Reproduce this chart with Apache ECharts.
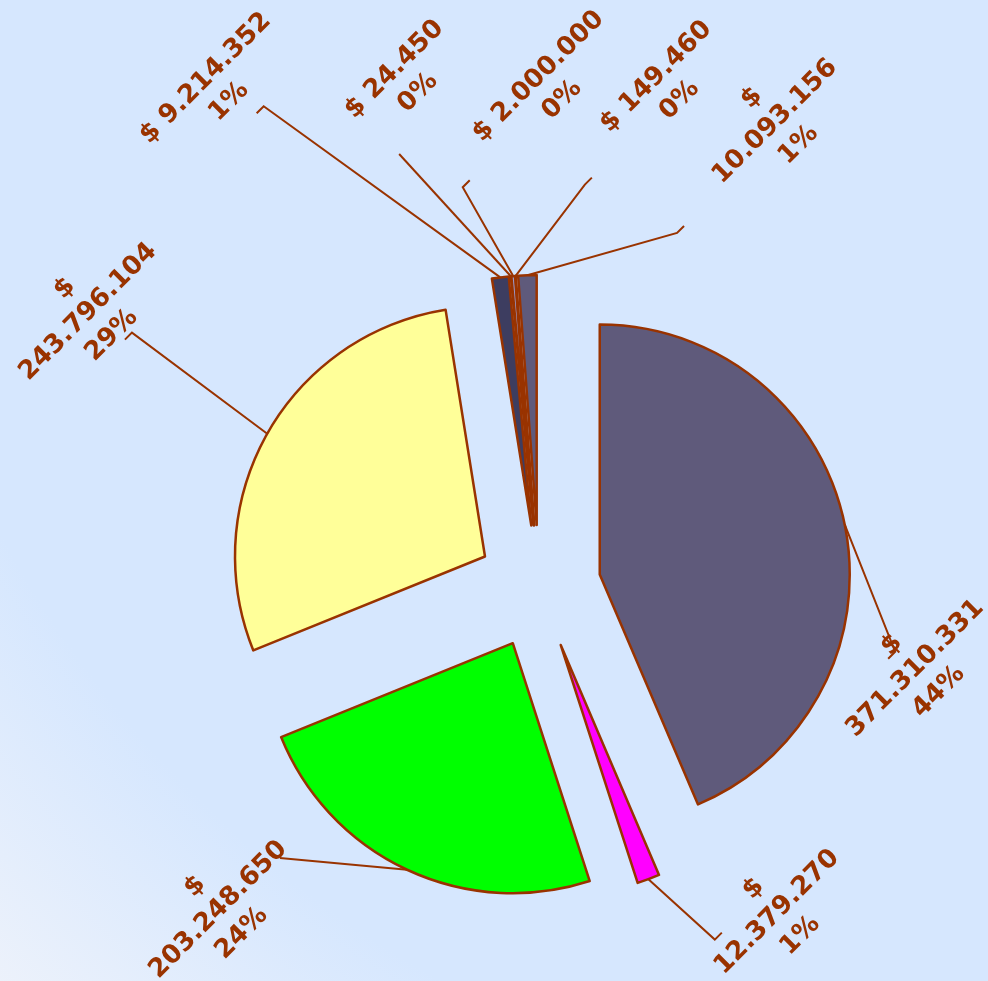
<!DOCTYPE html>
<html>
<head>
<meta charset="utf-8">
<script src="https://cdn.jsdelivr.net/npm/echarts@6/dist/echarts.min.js"></script>
<style>
  html, body { margin: 0; padding: 0; }
  #main { width: 988px; height: 981px; }
</style>
</head>
<body>
<div id="main"></div>
<script>
// ---- data ----
var names  = ['Item 1', 'Item 2', 'Item 3', 'Item 4', 'Item 5', 'Item 6', 'Item 7', 'Item 8', 'Item 9'];
var values = [371310331, 12379270, 203248650, 243796104, 9214352, 24450, 2000000, 149460, 10093156];
var colors = ['#5F5A7B', '#FF00FF', '#00FF00', '#FFFF99', '#3D3D60', '#CC6633', '#9999CC', '#CC9966', '#5F5A7B'];

// ---- label placement (layout only) ----
// polar positions measured clockwise from 12 o'clock around the pie centre
var lineEndAngle = [100.3, 153.5, 223.7, 302.0, 330.2, 342.1, 349.2, 6.5, 21.3];
var lineEndDist  = [362, 394, 375, 480, 554, 455, 407, 405, 380];
var hookSide     = [-1, 1, 0, -1, -1, 0, 1, 1, 1];
var labelAngle   = [102.2, 143.8, 224.8, 301.4, 327.1, 345.3, 1.3, 14.5, 26.9];
var labelDist    = [385, 403, 455, 528, 592, 523, 499, 515, 522];

var cx = 539, cy = 587, radius = 250, explode = 62;
var brown = '#993300';

var total = values.reduce(function (a, b) { return a + b; }, 0);
var midAngle = [];
var acc = 0;
values.forEach(function (v) {
    midAngle.push((acc + v / 2) / total * 360);
    acc += v;
});

function fmt(v) {
    return String(v).replace(/\B(?=(\d{3})+(?!\d))/g, '.');
}
function polar(deg, dist) {
    var a = deg * Math.PI / 180;
    return [cx + dist * Math.sin(a), cy - dist * Math.cos(a)];
}

var chart = echarts.init(document.getElementById('main'));

var pieData = values.map(function (v, i) {
    return { value: v, name: names[i] };
});

chart.setOption({
    animation: false,
    backgroundColor: {
        type: 'radial', x: 1, y: 0, r: 1.43,
        colorStops: [
            { offset: 0, color: '#D6E7FE' },
            { offset: 0.8, color: '#D6E7FE' },
            { offset: 1, color: '#EDF2FB' }
        ]
    },
    series: [{
        // exploded slices
        type: 'pie',
        center: [cx, cy],
        radius: radius,
        startAngle: 90,
        clockwise: true,
        selectedMode: 'multiple',
        selectedOffset: explode,
        itemStyle: { borderColor: brown, borderWidth: 2.5 },
        select: { itemStyle: { borderColor: brown, borderWidth: 2.5 } },
        emphasis: { disabled: true },
        label: { show: false },
        labelLine: { show: false },
        data: pieData.map(function (d, i) {
            return { value: d.value, name: d.name, selected: true, itemStyle: { color: colors[i] } };
        })
    }, {
        // labels + leader lines (invisible sectors)
        type: 'pie',
        silent: true,
        center: [cx, cy],
        radius: radius,
        startAngle: 90,
        clockwise: true,
        avoidLabelOverlap: false,
        itemStyle: { color: 'rgba(0,0,0,0)', borderWidth: 0 },
        emphasis: { disabled: true },
        label: {
            show: true,
            position: 'outside',
            color: brown,
            fontFamily: 'DejaVu Sans',
            fontWeight: 'bold',
            fontSize: 26,
            lineHeight: 33,
            width: 400,
            overflow: 'none',
            align: 'center',
            formatter: function (p) {
                var head = '$ ' + fmt(p.value);
                if (head.length > 11) head = '$\n' + fmt(p.value);
                return head + '\n' + Math.round(p.value / total * 100) + '%';
            }
        },
        labelLine: { show: true, lineStyle: { color: brown, width: 2 } },
        labelLayout: function (p) {
            var i = p.dataIndex;
            var start = polar(midAngle[i], radius + explode);
            var end = polar(lineEndAngle[i], lineEndDist[i]);
            var hook = [end[0] + hookSide[i] * 7, end[1] - hookSide[i] * 7];
            var c = polar(labelAngle[i], labelDist[i]);
            return {
                x: c[0], y: c[1],
                rotate: 45,
                align: 'center',
                verticalAlign: 'middle',
                labelLinePoints: [start, end, hook]
            };
        },
        data: pieData
    }]
});
</script>
</body>
</html>
